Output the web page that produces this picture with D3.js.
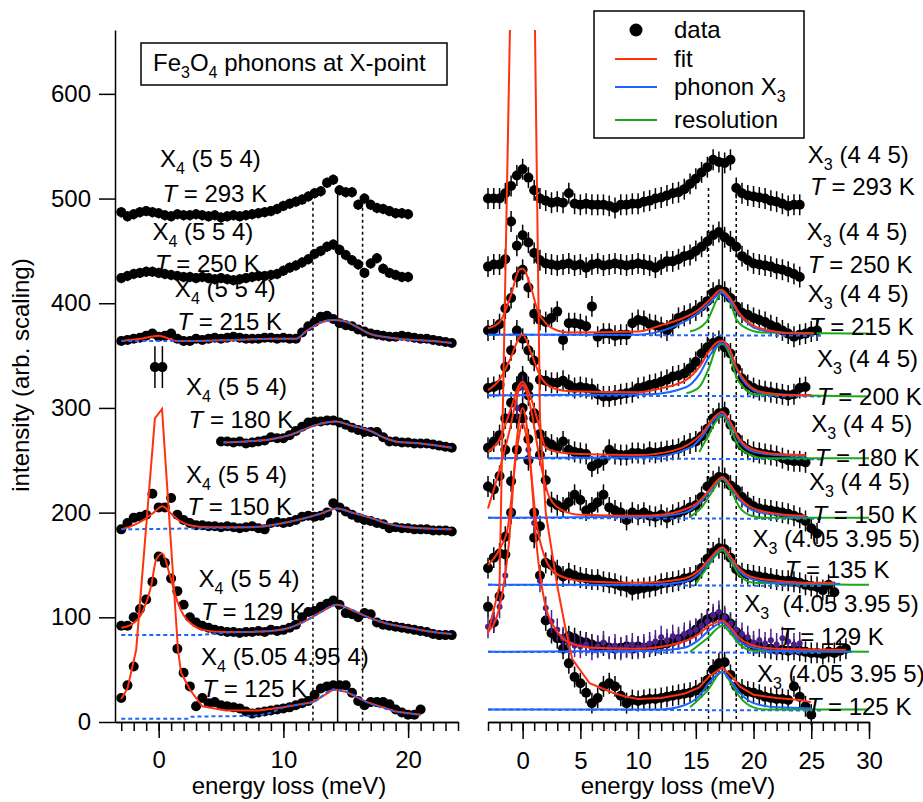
<!DOCTYPE html>
<html>
<head>
<meta charset="utf-8">
<script src="https://cdn.jsdelivr.net/npm/d3@7"></script>
<style>
  body { margin: 0; background: #fff; }
  text { font-family: "Liberation Sans", Arial, sans-serif; white-space: pre; }
</style>
</head>
<body>
<svg id="chart" width="923" height="802"></svg>
<script>
var STEP = 0.5; // meV grid of the scans

// ---------- left panel: X4 phonon, scans start at given energy ----------
var l293 = [487,483,485,487,488,487,486,484,483,485, 484,484,485,484,483,484,482,483,484,483,
            484,485,486,487,488,490, 493,495,497,499,502,505,507,515,518,508,
            506,506,494,500,494,491,490,488,486,486, 485];
var l250 = [424,426,428,429,430,430,429,428,427,426, 425,425,424,425,424,423,424,423,422,423,
            424,425,426,426,427,428, 431,434,436,439,442,447,450,454,456,451,
            446,441,437,429,438,443,433,429,427,425, 425];
var l215 = [364,365,366,367,369,371,368,369,371,366, 364,364,366,365,366,367,366,367,368,367,
            366,366,366,367,367,366,367,366,366, 372,378,382,387,388,385,381,379,378,375,
            373,371,370,369,368,368,369,368,367,366, 366,365,364,363,362];
var l215Odd = [[-0.3, 339], [0.3, 339]];
var l180 = [268,268,267,268,266,267,268,269,272,271, 271,274,278,282,286,287,287,288,288,286,
            284,281,279,277,277,277,272,268,268,267, 267,266,266,266,265,264,263,262];
var l150 = [184,190,195,196,198,218,205,205,214,198, 193,190,188,188,187,187,186,187,186,185,
            186,187,185,184,190,191,190,191,193,196, 197,196,197,200,209,205,201,198,195,193,
            192,190,189,185,186,185,185,184,184,184, 183,183,183,182];
var l129 = [92,92,100,108,117,134,158,152,137,125, 112,100,95,92,90,88,87,86,86,85,
            86,86,87,86,88,87,88,90,93,100, 105,106,110,113,116,112,104,103,100,104,
            103,95,93,92,91,90,89,88,87,86, 84,83,83,83];
var l125 = [23,35,53,null,null,null,null,null,null,70, 47,34,15,23,18,19,16,15,14,13,
            10,8,9,10,11,12,13,14,16,18, 20,26,32,34,35,35,35,28,20,16,
            19,19,19,17,12,9,7,7,12];

var l215Fit = [[-3,364],[-1.5,366],[0,369],[1.5,364],[3,364],[6,365],[9,366],[11,366],[11.8,373],[12.9,381],
               [14,384],[15.1,382],[16.1,376],[16.9,371],[18.6,367],[22.8,363],[23.5,362]];
var l215Ph  = [[-3,364],[3,364],[6,365],[9,366],[11,366],[11.8,373],[12.9,381],
               [14,384],[15.1,382],[16.1,376],[16.9,371],[18.6,367],[22.8,363],[23.5,362]];
var l180Fit = [[5.2,267],[7,268],[9,270],[10.5,274],[12,281],[13,285],[14.2,287],[15.5,283],[17,278],
               [18,272],[19,268],[21,266],[23.5,262]];
var l150Fit = [[-3,184],[-2,188],[-1.2,193],[-0.4,200],[0.3,206],[1,199],[1.7,192],[2.5,188],[4,186],[7,186],
               [8.5,187],[10,190],[11.5,194],[13,199],[14.3,204],[15.5,200],[17,195],[18.5,189],[20,186],[23.5,184]];
var l150Ph  = [[-3,184],[3,185],[7,186],[8.5,187],[10,190],[11.5,194],[13,199],[14.3,204],[15.5,200],
               [17,195],[18.5,189],[20,186],[23.5,184]];
var l129Fit = [[-3,90],[-2.2,93],[-1.3,105],[-0.6,130],[-0.2,155],[0.3,161],[0.9,140],[1.5,115],[2,102],[2.7,93],
               [3.5,88],[5,86],[7,86],[9,87],[10.5,90],[12,98],[13,105],[14.3,112],[15.5,107],[16.8,100],
               [18,95],[20,90],[22,86],[23.5,84]];
var l129Ph  = [[-3,83],[3,83],[5,85],[7,86],[9,87],[10.5,90],[12,98],[13,105],[14.3,112],[15.5,107],[16.8,100],
               [18,95],[20,90],[22,86],[23.5,84]];
var l125Fit = [[-3,22],[-2.5,32],[-1.8,69],[-0.3,290],[0.27,299],[1.55,69],[1.8,47],[2.5,31],[3.5,15],[5.4,11],
               [8,11],[10,14],[12.4,19],[14,31],[15,29],[16.7,19],[19,10],[21,7]];
var l125Ph  = [[-3,3],[2.4,3],[2.6,5],[7.5,6],[9,9],[10,14],[12.4,19],[14,31],[15,29],[16.7,19],[19,10],[21,7]];

// ---------- right panel: X3 phonon ----------
var r293 = [500,500,500,505,512,522,528,520,508,500, 498,496,497,496,505,495,494,495,494,494,
            494,493,491,494,494,495,495,497,498,500, 501,503,505,506,509,514,519,525,530,537,
            535,534,537,510,505,503,502,501,500,498, 497,495,493,494,494];
var r250 = [435,437,437,442,478,455,465,458,448,441, 438,437,436,437,438,436,437,434,437,438,
            436,437,438,437,436,437,438,437,436,434, 437,440,440,442,445,446,450,454,459,465,
            468,463,459,454,445,441,438,437,436,435, 433,432,430,428,425];
var r215 = [374,375,380,395,405,425,432,415,390,384, 382,386,392,365,381,381,380,378,397,368,
            371,371,369,370,370,381,384,383,380,379, 377,374,380,386,388,390,393,397,402,410,
            413,411,405,397,391,389,386,384,382,379, 377,374,371,368,370,371,373,374];
var r200 = [319,320,322,339,355,374,366,355,345,327, 326,324,324,326,322,319,320,319,318,313,
            311,311,312,313,314,315,319,320,322,323, 325,327,330,331,333,338,344,352,358,362,
            364,358,352,338,328,322,319,317,316,315, 314,313,312,313,319,320];
var r180 = [262,268,274,290,305,320,326,312,295,275, 268,265,262,268,260,258,257,256,244,247,
            250,260,256,255,255,257,257,256,258,257, 258,259,260,261,264,266,268,273,280,290,
            295,296,284,272,264,260,258,257,256,255, 254,252,250,249,249,248];
var r150 = [225,222,235,260,290,320,330,320,290,255, 231,210,207,205,210,217,212,202,205,210,
            217,205,202,200,193,200,198,200,197,196, 198,195,198,200,202,205,207,215,225,230,
            234,233,226,222,215,210,206,204,203,202, 201,200,199,197,195,192,185,180];
var r135 = [147,157,161,177,200,260,290,250,176,187, 152,150,145,139,142,140,138,137,136,136,
            134,133,132,130,129,126,127,128,129,130, 132,133,134,135,137,138,140,147,156,162,
            166,165,157,146,142,141,140,139,138,137, 136,135,135,134,133,131,130,129,126,131, 124];
var r129 = [110,95,120,160,230,290,300,270,200,140, 97,85,80,79,82,80,77,76,74,72,
            73,71,70,71,72,70,72,71,72,73, 74,75,77,79,81,84,88,94,98,100,
            102,99,94,86,80,76,73,72,71,70, 69,69,68,69,68,67,66,66,65,67, 66,68,70];
var r129b = [91,97,110,140,200,300,320,260,190,135, 109,96,88,80,75,73,72,74,70,72,
             76,71,73,70,72,74,71,73,75,77, 81,78,82,80,84,86,88,92,96,102,
             105,100,94,88,84,81,76,78,75,78, 74,80,77,74,75];
var r125 = [70,56,43,37,28,18,23,34,37,34, 25,18,21,20,21,22,22,23,24,25,
            26,27,28,30,33,40,50,56,57,45, 34,31,29,28,26,24,23,22,22,21, 34,24,15,7];

var r215Fit = [[-3,376],[-2,382],[-1,408],[-0.3,432],[0,433],[0.7,416],[1.3,393],[2,381],[3,374],[4,372],[10,373],
               [12,379],[13.5,384],[15,392],[16.2,403],[17.2,413],[17.9,406],[18.8,390],[19.9,379],[21.4,374],[23.7,371],[25.2,371]];
var r215Ph  = [[-3,370],[10,370],[12.7,376],[15,389],[16.2,400],[17.2,410],[17.9,403],[18.8,389],[20.2,376],[22.2,372],[24.5,371]];
var r215Res = [[14.5,373],[15.9,382],[16.8,403],[17.2,411],[17.9,403],[18.5,385],[19.4,376],[20.8,372],[30,371]];
var r200Fit = [[-3,317],[-2,327],[-1.1,346],[-0.3,367],[0,370],[0.75,352],[1.5,331],[2.6,319],[4,316],[10,315],
               [12.1,319],[14.2,327],[15.3,339],[16.2,355],[16.9,363],[17.3,364],[17.9,357],[18.5,339],[19.4,324],[20.8,315],[23.7,312],[25,312]];
var r200Ph  = [[-3,312],[11,313],[14.2,320],[15.3,332],[16.2,350],[17.2,362],[17.9,355],[18.5,338],[19.4,322],[20.8,314],[25,312]];
var r200Res = [[14.2,314],[15.3,320],[16.2,340],[16.8,358],[17.3,361],[17.9,352],[18.5,330],[19.1,320],[20,313],[30,311]];
var r180Fit = [[-3,258],[-2,270],[-1,300],[-0.3,322],[0,325],[0.7,310],[1.5,280],[2,262],[3,258],[5,256],[10,255],
               [13,259],[14.5,266],[15.5,275],[16.5,290],[17.3,296],[18,286],[18.8,270],[20,260],[22,256],[24.5,255]];
var r180Ph  = [[-3,252],[11,253],[14.5,262],[15.5,272],[16.5,288],[17.3,294],[18,284],[18.8,268],[20,258],[22,255],[24.5,254]];
var r180Res = [[15.3,258],[16,272],[16.8,288],[17.3,293],[18,280],[18.8,262],[20,254],[21,252],[30,252]];
var r150Fit = [[-3,204],[-2,241],[-1.1,280],[-0.3,318],[0,322],[0.7,300],[1.5,250],[2.3,215],[3.5,202],[5,198],[10,197],
               [12,198],[14,203],[15.2,210],[16.2,222],[16.8,230],[17.3,234],[18,226],[18.8,214],[20,204],[22,199],[24.5,197]];
var r150Ph  = [[-3,195],[11,196],[14,200],[15.2,208],[16.2,220],[16.8,229],[17.3,233],[18,225],[18.8,212],[20,202],[22,198],[24.5,196]];
var r150Res = [[14.5,196],[15.5,205],[16.3,218],[17.3,232],[18,222],[18.8,205],[19.8,197],[21,195],[30,195]];
var r135Fit = [[-3,150],[-2,165],[-1.3,185],[-0.5,260],[0,285],[0.5,260],[1.2,190],[2,155],[2.9,142],[4.3,136],[6,134],[10,133],
               [12,134],[14,137],[15.2,144],[16.2,156],[17.3,167],[18,158],[18.8,146],[20,138],[22,135],[25,133],[27,133]];
var r135Ph  = [[-3,131],[11,131],[14,134],[15.2,141],[16.2,154],[17.3,166],[18,157],[18.8,144],[20,136],[22,133],[27.5,132]];
var r135Res = [[15,132],[16,148],[17.3,164],[18,154],[18.8,140],[20,133],[30,131]];
var r129Fit = [[-3,86],[-2,110],[-1.2,170],[-0.5,270],[0,300],[0.5,270],[1.2,170],[2,110],[2.9,88],[4,76],[6,71],[10,70],
               [13,74],[15,82],[16.2,92],[17.3,97],[18,90],[18.8,80],[20,73],[22,70],[28,69]];
var r129Ph  = [[-3,67],[11,68],[14,71],[15.2,78],[16.2,88],[17.3,95],[18,88],[18.8,77],[20,71],[22,68],[28.5,67]];
var r129Res = [[14.5,67],[16,80],[17.3,92],[18,85],[18.8,74],[20,68],[30,67]];
var r125Fit = [[-3,85],[-2,130],[-1,720],[1,720],[1.5,290],[2,200],[3,130],[3.7,90],[4.3,60],[5.8,37],[7.8,28],[9,24],
               [10,22],[12,23],[14,27],[15.3,33],[16.2,44],[17.3,52],[18,45],[18.8,34],[20,26],[22,23],[24,21],[25,19]];
var r125Ph  = [[-3,12],[12,12],[14,16],[15.3,25],[16.2,38],[17.3,48],[18,40],[18.8,28],[20,18],[22,14],[25,13]];
var r125Res = [[14.5,14],[16,30],[17.3,48],[18,38],[18.8,24],[20,14],[21,12],[30,12]];
var rBase = [370, 312, 252, 195, 131, 67, 12];

// phonon energies marked by vertical lines (solid = centre, dotted = edges)
var leftModes = [12.37, 14.35, 16.35];
var rightModes = [16.1, 17.3, 18.5];

// tick values
var yTicks = [0, 100, 200, 300, 400, 500, 600];
var xTicksL = [0, 10, 20];
var xTicksR = [0, 5, 10, 15, 20, 25, 30];

var RED = "#ff3210", BLUE = "#1f64ff", GREEN = "#19a819", PURPLE = "#4a1f8c";

var svg = d3.select("#chart");
var xL = d3.scaleLinear().domain([-3.5, 24]).range([115, 458]);
var xR = d3.scaleLinear().domain([-3, 30]).range([488, 869]);
var y = d3.scaleLinear().domain([0, 661]).range([722, 30]);

function pts(start, vals) {
  return vals.map(function(v, i) { return [start + i * STEP, v]; }).filter(function(d) { return d[1] != null; });
}

svg.append("defs").append("clipPath").attr("id", "plotclip")
  .append("rect").attr("x", 100).attr("y", 30).attr("width", 823).attr("height", 700);

var gL = svg.append("g").attr("clip-path", "url(#plotclip)");
var gR = svg.append("g").attr("clip-path", "url(#plotclip)");

function markLines(g, x, modes, top, topDot) {
  modes.forEach(function(m, i) {
    g.append("line").attr("x1", x(m)).attr("x2", x(m))
      .attr("y1", y(i == 1 ? top : topDot)).attr("y2", y(0))
      .attr("stroke", "#000").attr("stroke-width", 1.5)
      .attr("stroke-dasharray", i == 1 ? null : "3,3");
  });
}
markLines(gL, xL, leftModes, 505, 497);
markLines(gR, xR, rightModes, 537, 510);

function drawData(g, x, data, err, color, r) {
  var s = g.append("g");
  s.selectAll("line").data(data).enter().append("line")
    .attr("x1", function(d) { return x(d[0]); }).attr("x2", function(d) { return x(d[0]); })
    .attr("y1", function(d) { return y(d[1] - err); }).attr("y2", function(d) { return y(d[1] + err); })
    .attr("stroke", color).attr("stroke-width", 1.5);
  s.selectAll("circle").data(data).enter().append("circle")
    .attr("cx", function(d) { return x(d[0]); }).attr("cy", function(d) { return y(d[1]); })
    .attr("r", r).attr("fill", color);
}

function drawLine(g, x, data, color, dash, curve) {
  var line = d3.line().x(function(d) { return x(d[0]); }).y(function(d) { return y(d[1]); })
    .curve(curve || d3.curveMonotoneX);
  g.append("path").datum(data).attr("d", line).attr("fill", "none")
    .attr("stroke", color).attr("stroke-width", 2).attr("stroke-dasharray", dash || null);
}

// left data
drawData(gL, xL, pts(-3, l293), 5, "#000", 5);
drawData(gL, xL, pts(-3, l250), 5, "#000", 5);
drawData(gL, xL, pts(-3, l215), 4, "#000", 5);
drawData(gL, xL, l215Odd, 20, "#000", 5);
drawData(gL, xL, pts(5, l180), 4, "#000", 5);
drawData(gL, xL, pts(-3, l150), 4, "#000", 5);
drawData(gL, xL, pts(-3, l129), 4, "#000", 5);
drawData(gL, xL, pts(-3, l125), 4, "#000", 5);

[[l215Fit, l215Ph], [l180Fit, l180Fit], [l150Fit, l150Ph], [l129Fit, l129Ph]].forEach(function(p) {
  drawLine(gL, xL, p[0], RED);
  drawLine(gL, xL, p[1], BLUE, "4,3");
});
drawLine(gL, xL, l125Fit, RED, null, d3.curveLinear);
drawLine(gL, xL, l125Ph, BLUE, "4,3");

// right data
drawData(gR, xR, pts(-3, r293), 10, "#000", 5);
drawData(gR, xR, pts(-3, r250), 10, "#000", 5);
drawData(gR, xR, pts(-3, r215), 10, "#000", 5);
drawData(gR, xR, pts(-3, r200), 10, "#000", 5);
drawData(gR, xR, pts(-3, r180), 10, "#000", 5);
drawData(gR, xR, pts(-3, r150), 10, "#000", 5);
drawData(gR, xR, pts(-3, r135), 10, "#000", 5);
drawData(gR, xR, pts(-3, r129), 10, "#000", 5);
drawData(gR, xR, pts(3.5, r125), 10, "#000", 5);
drawData(gR, xR, pts(-3, r129b), 11, PURPLE, 3);

var rightFits = [[r215Fit, r215Ph, r215Res], [r200Fit, r200Ph, r200Res], [r180Fit, r180Ph, r180Res],
                 [r150Fit, r150Ph, r150Res], [r135Fit, r135Ph, r135Res], [r129Fit, r129Ph, r129Res],
                 [r125Fit, r125Ph, r125Res]];
rightFits.forEach(function(p, i) {
  drawLine(gR, xR, [[-3, rBase[i]], [26, rBase[i] - 1]], BLUE, "4,3", d3.curveLinear);
  drawLine(gR, xR, p[2], GREEN);
  drawLine(gR, xR, p[1], BLUE);
  drawLine(gR, xR, p[0], RED, null, i == 6 ? d3.curveLinear : d3.curveMonotoneX);
});

// axes
var FONT = 24;
function styleAxis(g) {
  g.attr("font-size", FONT).attr("font-family", "'Liberation Sans', Arial, sans-serif");
  g.selectAll("line, path").attr("stroke-width", 1.5);
}
var ay = svg.append("g").attr("transform", "translate(115,0)")
  .call(d3.axisLeft(y).tickValues(yTicks).tickSize(16).tickPadding(8).tickSizeOuter(0));
styleAxis(ay);

function xAxis(x, major, size, minor) {
  var gm = svg.append("g").attr("transform", "translate(0,722)")
    .call(d3.axisBottom(x).tickValues(minor).tickSize(9).tickFormat("").tickSizeOuter(0));
  styleAxis(gm);
  var ga = svg.append("g").attr("transform", "translate(0,722)")
    .call(d3.axisBottom(x).tickValues(major).tickSize(size).tickPadding(13).tickSizeOuter(0));
  styleAxis(ga);
}
xAxis(xL, xTicksL, 16, d3.range(-3, 25));
xAxis(xR, xTicksR, 17, d3.range(-3, 31));

svg.append("text").attr("x", 289).attr("y", 794).attr("text-anchor", "middle")
  .attr("font-size", FONT).text("energy loss (meV)");
svg.append("text").attr("x", 678).attr("y", 794).attr("text-anchor", "middle")
  .attr("font-size", FONT).text("energy loss (meV)");
svg.append("text").attr("transform", "translate(29,375) rotate(-90)").attr("text-anchor", "middle")
  .attr("font-size", FONT).text("intensity (arb. scaling)");

// scan labels: [energy, intensity] of the two text lines
var leftLabels = [
  ["X", "4", " (5 5 4)", "293", [0.1, 530], [0.3, 497]],
  ["X", "4", " (5 5 4)", "250", [-0.5, 460], [-0.3, 430]],
  ["X", "4", " (5 5 4)", "215", [1.3, 406], [1.5, 374]],
  ["X", "4", " (5 5 4)", "180", [2.2, 312], [2.4, 281]],
  ["X", "4", " (5 5 4)", "150", [2.2, 228], [2.3, 198]],
  ["X", "4", " (5 5 4)", "129", [3.2, 129], [3.4, 97]],
  ["X", "4", " (5.05 4.95 4)", "125", [3.4, 54], [3.5, 24]]
];
var rightLabels = [
  ["X", "3", " (4 4 5)", "293", [24.7, 534], [24.9, 503]],
  ["X", "3", " (4 4 5)", "250", [24.6, 460], [24.7, 429]],
  ["X", "3", " (4 4 5)", "215", [24.7, 401], [24.8, 370]],
  ["X", "3", " (4 4 5)", "200", [25.5, 339], [25.5, 303]],
  ["X", "3", " (4 4 5)", "180", [25.0, 277], [25.3, 245]],
  ["X", "3", " (4 4 5)", "150", [24.8, 222], [25.1, 190]],
  ["X", "3", " (4.05 3.95 5)", "135", [19.9, 167], [22.7, 138]],
  ["X", "3", "  (4.05 3.95 5)", "129", [19.2, 105], [22.2, 74]],
  ["X", "3", " (4.05 3.95 5)", "125", [20.3, 38], [24.6, 7]]
];

function subText(px, py, main, sub, rest) {
  var t = svg.append("text").attr("x", px).attr("y", py).attr("font-size", FONT);
  t.append("tspan").text(main);
  t.append("tspan").attr("font-size", 16).attr("dy", 7).text(sub);
  t.append("tspan").attr("dy", -7).text(rest);
  return t;
}
function drawLabels(list, x) {
  list.forEach(function(l) {
    subText(x(l[4][0]), y(l[4][1]), l[0], l[1], l[2]);
    var t = svg.append("text").attr("x", x(l[5][0])).attr("y", y(l[5][1])).attr("font-size", FONT);
    t.append("tspan").attr("font-style", "italic").text("T");
    t.append("tspan").text(" = " + l[3] + " K");
  });
}
drawLabels(leftLabels, xL);
drawLabels(rightLabels, xR);

// title box
svg.append("rect").attr("x", 141).attr("y", 43).attr("width", 306).attr("height", 42)
  .attr("fill", "#fff").attr("stroke", "#000").attr("stroke-width", 1.5);
var tt = svg.append("text").attr("x", 153).attr("y", 71).attr("font-size", FONT);
tt.append("tspan").text("Fe");
tt.append("tspan").attr("font-size", 16).attr("dy", 7).text("3");
tt.append("tspan").attr("dy", -7).text("O");
tt.append("tspan").attr("font-size", 16).attr("dy", 7).text("4");
tt.append("tspan").attr("dy", -7).text(" phonons at X-point");

// legend
var lg = svg.append("g");
lg.append("rect").attr("x", 594).attr("y", 11).attr("width", 210).attr("height", 127)
  .attr("fill", "#fff").attr("stroke", "#000").attr("stroke-width", 1.5);
lg.append("circle").attr("cx", 636).attr("cy", 30).attr("r", 6.5).attr("fill", "#000");
lg.append("text").attr("x", 674).attr("y", 38).attr("font-size", FONT).text("data");
[[RED, 59, "fit"], [BLUE, 87, null], [GREEN, 120, "resolution"]].forEach(function(e) {
  lg.append("line").attr("x1", 615).attr("x2", 657).attr("y1", e[1]).attr("y2", e[1])
    .attr("stroke", e[0]).attr("stroke-width", 2);
});
lg.append("text").attr("x", 674).attr("y", 67).attr("font-size", FONT).text("fit");
var lp = lg.append("text").attr("x", 674).attr("y", 95).attr("font-size", FONT);
lp.append("tspan").text("phonon X");
lp.append("tspan").attr("font-size", 16).attr("dy", 7).text("3");
lg.append("text").attr("x", 674).attr("y", 128).attr("font-size", FONT).text("resolution");
</script>
</body>
</html>
